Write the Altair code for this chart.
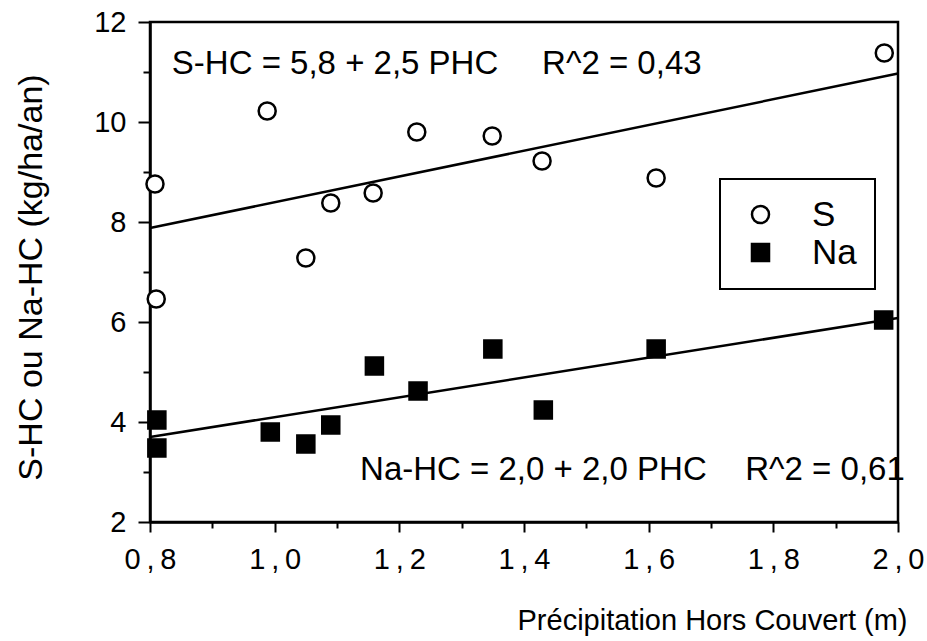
import altair as alt
import pandas as pd

FONT = "Liberation Sans, Arial, sans-serif"

# S (open circles)
s_x = [0.808, 0.810, 0.988, 1.050, 1.090, 1.158, 1.228, 1.349, 1.429, 1.612, 1.978]
s_y = [8.76, 6.46, 10.22, 7.28, 8.38, 8.58, 9.80, 9.72, 9.22, 8.88, 11.38]
# Na (filled squares)
na_x = [0.811, 0.811, 0.993, 1.050, 1.090, 1.160, 1.230, 1.350, 1.431, 1.612, 1.977]
na_y = [4.04, 3.48, 3.80, 3.56, 3.94, 5.12, 4.62, 5.46, 4.24, 5.46, 6.04]

# regression lines (end points)
fit_x = [0.8, 2.0]
s_fit = [7.88, 10.97]
na_fit = [3.70, 6.08]

# annotations
ann_text = ["S-HC = 5,8 + 2,5 PHC", "R^2 = 0,43", "Na-HC = 2,0 + 2,0 PHC", "R^2 = 0,61"]
ann_x = [0.835, 1.429, 1.137, 1.755]
ann_y = [11.16, 11.16, 3.04, 3.04]

x_ticks = [0.8, 1.0, 1.2, 1.4, 1.6, 1.8, 2.0]
x_minor = [0.9, 1.1, 1.3, 1.5, 1.7, 1.9]
y_ticks = [2, 4, 6, 8, 10, 12]
y_minor = [3, 5, 7, 9, 11]

pts = pd.DataFrame({
    "x": s_x + na_x,
    "y": s_y + na_y,
    "serie": ["S"] * len(s_x) + ["Na"] * len(na_x),
})
fits = pd.DataFrame({
    "x": fit_x + fit_x,
    "y": s_fit + na_fit,
    "serie": ["S", "S", "Na", "Na"],
})
ann = pd.DataFrame({"t": ann_text, "x": ann_x, "y": ann_y})

xs = alt.Scale(domain=[0.8, 2.0], nice=False, zero=False)
ys = alt.Scale(domain=[2, 12], nice=False, zero=False)

label_expr = "replace(format(datum.value, '.1f'), '.', '\u2009,\u2009')"

x_axis = alt.Axis(
    values=x_ticks, labelExpr=label_expr, title="Précipitation Hors Couvert (m)",
    titleAnchor="end", titleAlign="right", titleX=757, titleY=98,
    titleBaseline="middle", tickSize=10, labelPadding=13, titleFontSize=29,
    labelFontSize=29, labelFont=FONT, labelFlush=False, labelOverlap=False,
)
y_axis = alt.Axis(
    values=y_ticks, format="d", title="S-HC ou Na-HC (kg/ha/an)",
    titleX=-119, titleY=255, titleBaseline="middle", titleAlign="center",
    tickSize=12, labelPadding=12, titleFontSize=34,
    labelFontSize=29, labelFont=FONT, labelFlush=False, labelOverlap=False,
)

legend = alt.Legend(title=None)
points = alt.Chart(pts).mark_point(filled=True, strokeWidth=2.5, size=290, opacity=1).encode(
    x=alt.X("x:Q", scale=xs, axis=x_axis),
    y=alt.Y("y:Q", scale=ys, axis=y_axis),
    shape=alt.Shape("serie:N", scale=alt.Scale(domain=["S", "Na"], range=["circle", "square"]),
                    legend=legend),
    fill=alt.Fill("serie:N", scale=alt.Scale(domain=["S", "Na"], range=["white", "black"]),
                  legend=legend),
    stroke=alt.Stroke("serie:N", scale=alt.Scale(domain=["S", "Na"], range=["black", "black"]),
                      legend=legend),
)

minor = alt.Chart(pts).mark_point(opacity=0).encode(
    x=alt.X("x:Q", scale=xs, axis=alt.Axis(values=x_minor, labels=False, domain=False,
                                            tickSize=6, title=None, orient="bottom")),
    y=alt.Y("y:Q", scale=ys, axis=alt.Axis(values=y_minor, labels=False, domain=False,
                                            tickSize=7, title=None, orient="left")),
)

lines = alt.Chart(fits).mark_line(color="black", strokeWidth=2.5).encode(
    x=alt.X("x:Q", scale=xs, axis=None),
    y=alt.Y("y:Q", scale=ys, axis=None),
    detail="serie:N",
)

texts = alt.Chart(ann).mark_text(align="left", baseline="middle", font=FONT, fontSize=33, color="black").encode(
    x=alt.X("x:Q", scale=xs, axis=None),
    y=alt.Y("y:Q", scale=ys, axis=None),
    text="t:N",
)

chart = alt.layer(lines, points, texts, minor).resolve_axis(
    x="independent", y="independent"
).properties(
    width=748, height=500,
    autosize=alt.AutoSizeParams(type="none"),
    padding={"left": 150, "top": 22, "right": 29, "bottom": 119},
).configure_view(
    stroke="black", strokeWidth=2.5,
).configure_axis(
    labelFont=FONT, titleFont=FONT, labelFontSize=29,
    titleFontWeight="normal", labelColor="black", titleColor="black",
    domainColor="black", domainWidth=2.5, tickColor="black", tickWidth=2, grid=False,
).configure_legend(
    orient="none", legendX=570, legendY=157,
    strokeColor="black", strokeWidth=2, fillColor="white",
    padding=18, symbolOffset=5, labelOffset=34,
    labelFont=FONT, labelFontSize=35, labelColor="black",
    symbolSize=290, symbolStrokeWidth=2.5,
    rowPadding=2,
)

chart.save("out.html", embed_options={"renderer": "svg", "actions": False})
